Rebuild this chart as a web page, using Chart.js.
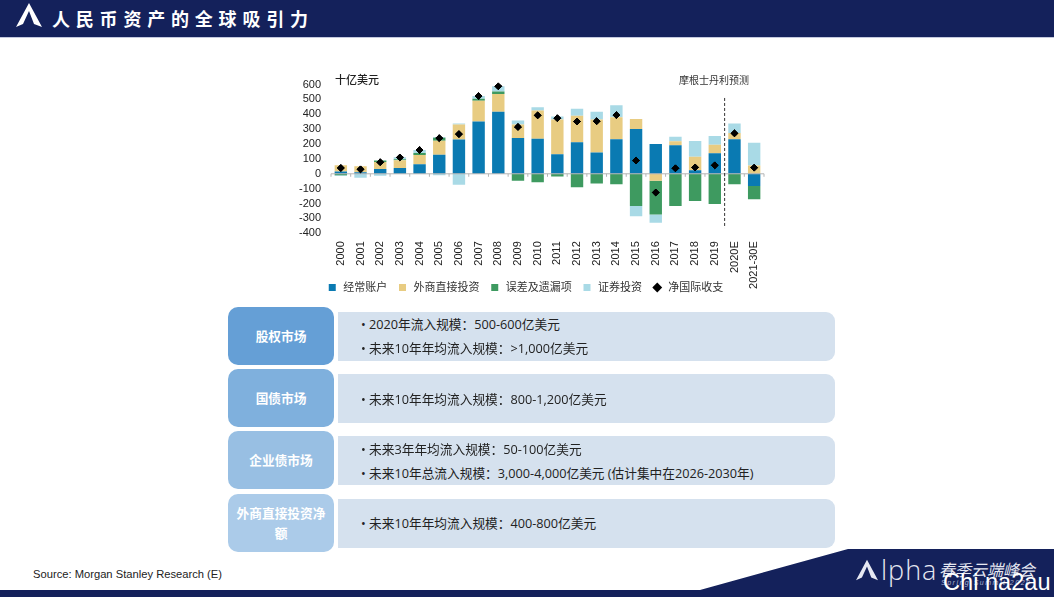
<!DOCTYPE html>
<html lang="zh">
<head>
<meta charset="utf-8">
<title>人民币资产的全球吸引力</title>
<script src="https://cdn.jsdelivr.net/npm/chart.js@4"></script>
<style>
html, body { margin: 0; padding: 0; background: #fff; }
body { width: 1054px; height: 597px; position: relative; overflow: hidden; font-family: "Open Sans", "Noto Sans CJK SC", sans-serif; }
.abs { position: absolute; white-space: nowrap; }
#header { left: 0; top: 0; width: 1054px; height: 37px; background: #14215b; border-bottom: 1px solid #c3c8de; }
#title { left: 52px; top: 4px; color: #fff; font: bold 18px/28px "Noto Sans CJK SC", sans-serif; letter-spacing: 5.8px; }
#footer { left: 0; top: 549px; width: 1054px; height: 48px; background: #14215b; clip-path: polygon(0 41px, 700px 41px, 848px 0, 1054px 0, 1054px 48px, 0 48px); }
#chart { position: absolute; left: 281px; top: 76px; }
.note { font: 10px/14px "Noto Sans CJK SC", sans-serif; color: #333; }
.tag { left: 228px; width: 106px; height: 58px; box-sizing: border-box; padding: 0 8px; border-radius: 10px; color: #fff; font: bold 12.7px/20px "Noto Sans CJK SC", sans-serif; display: flex; align-items: center; justify-content: center; text-align: center; white-space: normal; }
.panel { left: 338px; width: 497px; height: 49px; background: #d5e1ee; border-radius: 0 9px 9px 0; }
.line { left: 361px; font-size: 12.7px; line-height: 18px; color: #222; }
#source { left: 33px; top: 566px; font: 11.2px/16px "Liberation Sans", sans-serif; color: #222; }
#alpha { left: 881px; top: 552px; color: #e6e8f2; font: 300 27px/36px "Open Sans", sans-serif; letter-spacing: 1px; }
#summit { left: 939px; top: 558px; color: #e6e8f2; font: italic 16px/22px "Noto Sans CJK SC", sans-serif; }
#summit2 { left: 941px; top: 578px; color: #aab0cc; font: italic 7px/10px "Liberation Sans", sans-serif; letter-spacing: 1.5px; }
#mark { left: 943px; top: 569px; color: #fff; font: 23.6px/26px "Liberation Sans", sans-serif; }
</style>
</head>
<body>
<div id="header" class="abs"></div>
<svg class="abs" style="left:15px;top:2px" width="28" height="26" viewBox="0 0 28 26">
  <path d="M14 1 L27 25 L19 22 L14 9 L8 22 L1 25 Z" fill="#fff"/>
</svg>
<div id="title" class="abs">人民币资产的全球吸引力</div>

<canvas id="chart" width="488" height="244"></canvas>
<div class="abs note" style="left:335px;top:72px;font-size:11px;font-weight:500;color:#222">十亿美元</div>
<div class="abs note" style="left:679px;top:73px">摩根士丹利预测</div>

<div class="abs tag" style="top:307px;background:#659fd6">股权市场</div>
<div class="abs tag" style="top:369px;background:#7fb0dd">国债市场</div>
<div class="abs tag" style="top:431px;background:#98bfe3">企业债市场</div>
<div class="abs tag" style="top:494px;background:#abcbe9">外商直接投资净额</div>

<div class="abs panel" style="top:312px"></div>
<div class="abs panel" style="top:374px"></div>
<div class="abs panel" style="top:436px"></div>
<div class="abs panel" style="top:499px"></div>

<div class="abs line" style="top:315px">• 2020年流入规模：500-600亿美元</div>
<div class="abs line" style="top:339px">• 未来10年年均流入规模：&gt;1,000亿美元</div>
<div class="abs line" style="top:390px">• 未来10年年均流入规模：800-1,200亿美元</div>
<div class="abs line" style="top:440px">• 未来3年年均流入规模：50-100亿美元</div>
<div class="abs line" style="top:464px">• 未来10年总流入规模：3,000-4,000亿美元 (估计集中在2026-2030年)</div>
<div class="abs line" style="top:514px">• 未来10年年均流入规模：400-800亿美元</div>

<div id="source" class="abs">Source: Morgan Stanley Research (E)</div>
<div id="footer" class="abs"></div>
<svg class="abs" style="left:855px;top:559px" width="24" height="22" viewBox="0 0 28 26">
  <path d="M14 1 L27 25 L19 22 L14 9 L8 22 L1 25 Z" fill="#e6e8f2"/>
</svg>
<div id="alpha" class="abs">lpha</div>
<div id="summit" class="abs">春季云端峰会</div>
<div id="summit2" class="abs">Spring Summit 2020</div>
<div id="mark" class="abs">Chi na2au</div>

<script>
const years = ['2000','2001','2002','2003','2004','2005','2006','2007','2008','2009','2010','2011','2012','2013','2014','2015','2016','2017','2018','2019','2020E','2021-30E'];
const currentAccount = [16,11,32,39,64,128,231,352,418,240,235,132,212,144,233,301,201,192,23,139,233,-82];
const fdi = [41,39,48,52,62,94,100,139,119,91,190,233,178,221,148,68,-46,27,91,57,41,55];
const errorsOmissions = [-10,0,9,7,14,20,0,14,16,-46,-57,-18,-91,-66,-71,-217,-228,-217,-183,-203,-71,-89];
const portfolio = [-5,-27,-14,14,20,5,7,18,36,27,23,20,48,52,80,-68,-55,30,107,59,64,153];
const portfolioOutflow = [0,0,0,0,0,-9,-73,0,0,0,0,0,0,0,0,0,0,0,0,0,0,0];
const netBalance = [39,30,78,110,160,240,267,523,589,315,393,374,352,354,395,89,-126,37,43,57,272,41];

const chartFont = '"Liberation Sans", "Noto Sans CJK SC", sans-serif';

// the long 2021-30E label runs beside the legend, so pull the legend up over the axis box
const legendOverAxis = {
    id: 'legendOverAxis',
    afterLayout(chart) {
        chart.legend.top = chart.scales.x.bottom - 17;
    }
};

const zeroLineTicks = {
    id: 'zeroLineTicks',
    afterDatasetsDraw(chart) {
        const ctx = chart.ctx;
        const x = chart.scales.x;
        const y0 = chart.scales.y.getPixelForValue(0);
        ctx.save();
        ctx.strokeStyle = '#b5b5b5';
        ctx.lineWidth = 1;
        ctx.beginPath();
        ctx.moveTo(x.left, y0);
        ctx.lineTo(x.right, y0);
        for (let i = 0; i <= years.length; i++) {
            const px = x.left + (x.right - x.left) * i / years.length;
            ctx.moveTo(px, y0);
            ctx.lineTo(px, y0 + 3);
        }
        ctx.stroke();
        ctx.restore();
        // draw the diamonds again so the axis stays under them
        chart.getDatasetMeta(5).controller.draw();
    }
};

const forecastDivider = {
    id: 'forecastDivider',
    afterDraw(chart) {
        const ctx = chart.ctx;
        const x = chart.scales.x;
        const y = chart.scales.y;
        const px = (x.getPixelForValue(19) + x.getPixelForValue(20)) / 2;
        ctx.save();
        ctx.strokeStyle = '#333';
        ctx.lineWidth = 1;
        ctx.setLineDash([3, 2]);
        ctx.beginPath();
        ctx.moveTo(px, y.getPixelForValue(510));
        ctx.lineTo(px, y.getPixelForValue(-365));
        ctx.stroke();
        ctx.restore();
    }
};

new Chart(document.getElementById('chart'), {
    data: {
        labels: years,
        datasets: [
            { type: 'bar', label: '经常账户', data: currentAccount, backgroundColor: '#0a7ab2', stack: 'flows', order: 1 },
            { type: 'bar', label: '外商直接投资', data: fdi, backgroundColor: '#e8cc82', stack: 'flows', order: 1 },
            { type: 'bar', label: '误差及遗漏项', data: errorsOmissions, backgroundColor: '#3e9a60', stack: 'flows', order: 1 },
            { type: 'bar', label: '证券投资', data: portfolio, backgroundColor: '#a9dae6', stack: 'flows', order: 1 },
            { type: 'bar', label: '证券投资流出', data: portfolioOutflow, backgroundColor: '#a9dae6', stack: 'flows', order: 1 },
            { type: 'line', label: '净国际收支', data: netBalance, showLine: false, stack: 'net', order: 0,
              pointStyle: 'rectRot', pointRadius: 3.4, pointBackgroundColor: '#000', pointBorderColor: '#000', backgroundColor: '#000', borderColor: '#000' }
        ]
    },
    options: {
        responsive: false,
        animation: false,
        layout: { padding: { top: 7, right: 0, bottom: 0, left: 0 } },
        datasets: { bar: { barPercentage: 0.63, categoryPercentage: 1 } },
        plugins: {
            tooltip: { enabled: false },
            legend: {
                position: 'bottom',
                labels: {
                    font: { family: chartFont, size: 11 },
                    color: '#333',
                    usePointStyle: true,
                    boxHeight: 7,
                    padding: 9.75,
                    filter: item => item.text !== '证券投资流出',
                    sort: (a, b) => a.datasetIndex - b.datasetIndex,
                    generateLabels(chart) {
                        const items = Chart.defaults.plugins.legend.labels.generateLabels(chart);
                        items.forEach(item => {
                            item.pointStyle = item.datasetIndex === 5 ? 'rectRot' : 'rect';
                            item.lineWidth = 0;
                        });
                        return items;
                    }
                }
            }
        },
        scales: {
            x: {
                stacked: true,
                grid: { display: false },
                border: { display: false },
                afterFit(scale) { scale.height = 56; },
                ticks: {
                    autoSkip: false,
                    minRotation: 90,
                    maxRotation: 90,
                    padding: 0,
                    color: '#222',
                    font: { family: chartFont, size: 11 }
                }
            },
            y: {
                stacked: true,
                min: -400,
                max: 600,
                grid: { display: false },
                border: { display: false },
                afterFit(scale) { scale.width = 50; },
                ticks: {
                    stepSize: 100,
                    autoSkip: false,
                    padding: 2,
                    color: '#222',
                    font: { family: chartFont, size: 11 }
                }
            }
        }
    },
    plugins: [legendOverAxis, zeroLineTicks, forecastDivider]
});
</script>
</body>
</html>
